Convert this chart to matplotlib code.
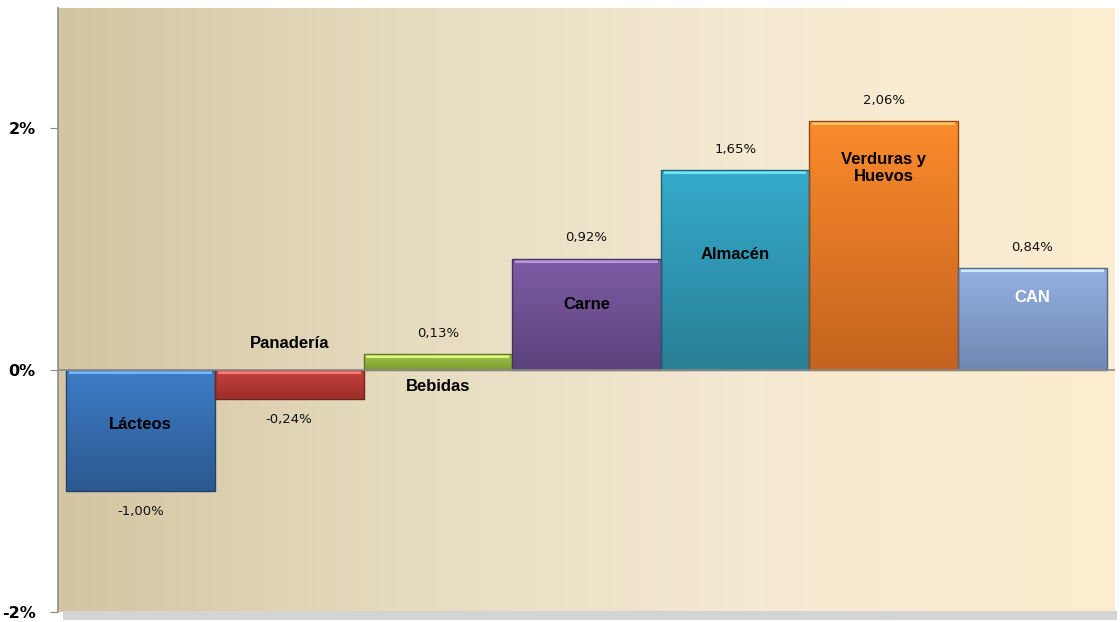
import numpy as np
import matplotlib
matplotlib.use("Agg")
import matplotlib.pyplot as plt
from matplotlib.colors import LinearSegmentedColormap, to_rgb
from matplotlib.patches import Rectangle

# data
categories = ["Lácteos", "Panadería", "Bebidas", "Carne", "Almacén", "Verduras y\nHuevos", "CAN"]
values = [-1.00, -0.24, 0.13, 0.92, 1.65, 2.06, 0.84]
value_labels = ["-1,00%", "-0,24%", "0,13%", "0,92%", "1,65%", "2,06%", "0,84%"]
yticks = [-2, 0, 2]
ytick_labels = ["-2%", "0%", "2%"]

# styling (top colour, bottom colour, label colour, label position)
bar_top = ["#3d7cc6", "#c8413d", "#a3c548", "#7e5ca6", "#35abcb", "#fb8b2c", "#94b1e2"]
bar_bot = ["#2c5890", "#9c2f2c", "#7d9a30", "#5b427c", "#287f96", "#c4631e", "#7187b3"]
label_color = ["#000000"] * 6 + ["#ffffff"]
# label y as fraction of bar value; "out" places it on the other side of zero
label_pos = [0.45, "out", "out", 0.59, 0.58, 0.81, 0.71]

C_AXIS = "#8c8c8c"

fig = plt.figure(figsize=(11.2, 6.22), dpi=100)
fig.patch.set_facecolor("white")

# plot-area shadow
fig.patches.append(Rectangle((0.056, 0.003), 0.9415, 0.0145, transform=fig.transFigure,
                             facecolor="#d4d4d4", edgecolor="none", zorder=0))

ax = fig.add_axes([0.0518, 0.0161, 0.9437, 0.9710])

# background gradient
bg = LinearSegmentedColormap.from_list("bg", ["#d3c5a1", "#e6dcc0", "#f5ead2", "#fdedd0"])
ax.imshow(np.linspace(0, 1, 256).reshape(1, -1), cmap=bg, aspect="auto",
          extent=[-0.555, 6.555, -2, 2.99], zorder=0)

x = np.arange(len(categories))
bars = ax.bar(x, values, width=1.0, color="none", edgecolor="none", zorder=2)

for i, b in enumerate(bars):
    x0, w = b.get_x(), b.get_width()
    y0, y1 = sorted([0, values[i]])
    cmap = LinearSegmentedColormap.from_list(f"b{i}", [bar_bot[i], bar_top[i]])
    grad = np.linspace(0, 1, 128).reshape(-1, 1)
    im = ax.imshow(grad, cmap=cmap, aspect="auto", origin="lower",
                   extent=[x0, x0 + w, y0, y1], zorder=2)
    im.set_clip_path(b)
    # bevel: lighter top edge, darker outline
    top = np.array(to_rgb(bar_top[i]))
    hl = tuple(np.clip(top + 0.25, 0, 1))
    ax.add_patch(Rectangle((x0 + 0.02, y1 - 0.035), w - 0.04, 0.025, facecolor=hl,
                           edgecolor="none", alpha=0.9, zorder=3))
    ax.add_patch(Rectangle((x0, y0), w, y1 - y0, facecolor="none",
                           edgecolor=tuple(np.array(to_rgb(bar_bot[i])) * 0.75),
                           linewidth=1.0, zorder=4))

ax.axhline(0, color=C_AXIS, lw=1.2, zorder=5)
ax.set_xlim(-0.555, 6.555)
ax.set_ylim(-2, 2.99)

# value labels
for i, v in enumerate(values):
    off = 0.17 if v > 0 else -0.17
    ax.text(x[i], v + off, value_labels[i], ha="center", va="center",
            fontsize=9.5, color="#111111", family="DejaVu Sans", zorder=6)

# category labels
for i, v in enumerate(values):
    pos = label_pos[i]
    if pos == "out":
        y = 0.22 if v < 0 else -0.14
    else:
        y = v * pos
    ax.text(x[i], y, categories[i], ha="center", va="center", fontsize=12,
            fontweight="bold", color=label_color[i], family="Liberation Sans",
            linespacing=1.15, zorder=6)

ax.set_xticks([])
ax.set_yticks(yticks)
ax.set_yticklabels(ytick_labels, fontsize=11.5, fontweight="bold", family="DejaVu Sans")
ax.tick_params(axis="y", length=6, color=C_AXIS, pad=10)
for s in ("top", "right", "bottom"):
    ax.spines[s].set_visible(False)
ax.spines["left"].set_color(C_AXIS)
ax.spines["left"].set_linewidth(1.2)

fig.savefig("out.png", dpi=100)
